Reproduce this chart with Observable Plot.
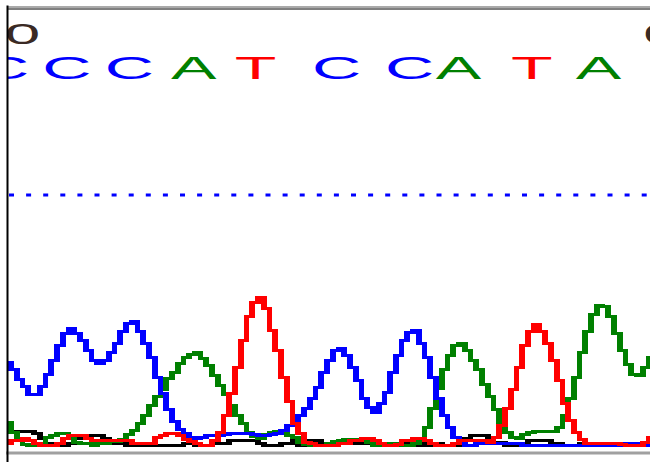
<!DOCTYPE html>
<html><head><meta charset="utf-8">
<script src="https://cdn.jsdelivr.net/npm/d3@7"></script>
<script src="https://cdn.jsdelivr.net/npm/@observablehq/plot@0.6"></script>
<style>body{margin:0;background:#fff} svg{display:block}</style>
</head><body><div id="chart"></div>
<script>
// Trace intensities per sample (scan index 0..112)
const traceC = [85,78,68,61,53,53,61,73,87,102, 114,119,114,107,97,87,84,87,95,104, 116,124,126,116,104,90,70,54,38,26, 18,14,10,9,10,12,12,12,13,14, 14,14,14,13,12,12,13,14,17,22, 27,32,39,49,60,75,87,97,99,92, 80,67,49,40,35,44,55,75,92,107, 115,117,104,90,70,49,32,20,10,4, 2,2,4,4,4,4,4,4,4,4, 2,2,2,2,2,2,2,2,2,2, 2,2,2,2,2,2,2,2,4,4, 4,2,2];
const traceA = [25,15,8,3,2,2,4,10,12,14, 14,11,5,4,4,2,4,4,6,6, 8,13,17,24,32,42,51,58,69,75, 84,90,93,95,89,82,72,62,53,42, 32,24,15,11,9,13,15,16,15,12, 10,5,3,2,2,2,4,6,7,8, 8,8,7,5,2,2,4,4,3,2, 2,4,9,20,39,59,78,92,102,104, 97,87,78,63,51,38,25,15,10,9, 13,15,16,16,16,16,20,32,49,70, 95,116,133,142,141,131,114,97,83,73, 72,80,90];
const traceT = [4,7,7,9,7,4,2,2,2,4, 9,12,12,12,9,7,7,7,7,7, 7,7,4,4,4,4,10,12,14,14, 12,8,6,4,2,2,7,15,32,54, 80,107,131,145,150,139,117,97,70,46, 24,14,5,4,2,2,2,2,4,4, 7,7,9,9,7,4,2,2,3,7, 7,9,9,7,4,2,2,2,4,7, 7,7,7,7,5,10,22,39,58,80, 102,116,123,116,104,87,67,44,27,15, 8,4,4,4,4,4,4,3,2,2, 2,5,10];
const traceG = [16,16,16,16,16,14,9,4,4,2, 2,4,9,12,12,12,12,9,4,4, 4,2,2,2,2,2,2,2,2,2, 2,4,4,2,2,2,4,4,4,7, 7,7,7,7,4,2,2,2,4,4, 7,2,2,7,7,4,4,4,4,4, 4,4,4,4,2,2,2,2,2,2, 4,4,2,4,2,4,2,2,2,3, 9,12,12,12,10,5,5,2,2,2, 2,7,7,7,7,4,4,2,2,2, 4,4,2,2,2,2,2,2,2,2, 2,2,2];

// Base calls and their scan positions
const baseCalls = ["C","C","C","A","T","C","C","A","T","A"];
const basePositions = [-0.7, 10.1, 21, 32.2, 43, 57.1, 69.8, 78.3, 91.1, 102.7];

// Position number labels (partially visible)
const positionLabels = ["0", "0"];
const positionLabelAt = [2.4, 113.6];

const threshold = 252.5;

const baseColor = {A: "#008000", C: "#0000ff", G: "#000000", T: "#ff0000"};
const series = [["G", traceG], ["A", traceA], ["C", traceC], ["T", traceT]];
const segments = [];
for (const [base, v] of series) {
  for (let i = 0; i < v.length - 1; i++) {
    segments.push({base, i, lo: Math.min(v[i], v[i + 1]), hi: Math.max(v[i], v[i + 1])});
  }
}
const bases = baseCalls.map((b, k) => ({base: b, pos: basePositions[k]}));
const labels = positionLabels.map((t, k) => ({text: t, pos: positionLabelAt[k]}));

const plot = Plot.plot({
  width: 650, height: 462,
  marginLeft: 7, marginRight: 0, marginTop: 6, marginBottom: 0,
  x: {domain: [0, 112], range: [8.26, 651.4], axis: null},
  y: {domain: [0, 440], range: [447, 7], axis: null},
  color: {type: "identity"},
  style: {background: "#fff"},
  marks: [
    Plot.rect(segments, {
      x1: "i", x2: d => d.i + 1,
      y1: d => d.lo - 1.5, y2: d => d.hi + 1.5,
      fill: d => baseColor[d.base],
      shapeRendering: "crispEdges"
    }),
    Plot.ruleY([threshold], {stroke: "#0000ff", strokeWidth: 3, strokeDasharray: "5,12.1", strokeDashoffset: 15.1}),
    Plot.text(bases, {
      x: "pos", y: 378, text: "base",
      fill: d => baseColor[d.base],
      fontSize: 31, fontWeight: "normal", fontFamily: "Liberation Sans",
      clip: true
    }),
    Plot.text(labels, {
      x: "pos", y: 412.5, text: "text",
      fill: "#3a2a24",
      fontSize: 29, fontWeight: "normal", fontFamily: "Liberation Sans",
      clip: true
    }),
    Plot.frame({anchor: "bottom", stroke: "#a0a0a0", strokeWidth: 3, insetBottom: 9.5}),
    Plot.frame({anchor: "top", stroke: "#555555", strokeWidth: 1, insetTop: 0.5}),
    Plot.frame({anchor: "top", stroke: "#000000", strokeWidth: 1, insetTop: 2.5}),
    Plot.frame({anchor: "left", stroke: "#000000", strokeWidth: 2})
  ]
});

// Stretch the base-call letters horizontally as in the trace viewer
plot.querySelectorAll("text").forEach(t => {
  const tr = t.getAttribute("transform");
  if (tr) t.setAttribute("transform", tr + " scale(2.2,1)");
});

document.getElementById("chart").appendChild(plot);
</script>
</body></html>
